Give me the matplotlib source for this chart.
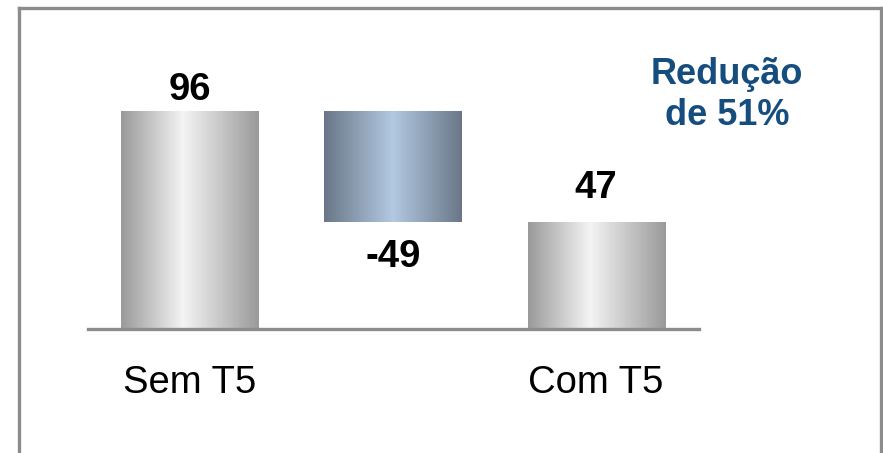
import numpy as np
import matplotlib.pyplot as plt
from matplotlib.colors import LinearSegmentedColormap
from matplotlib.lines import Line2D

plt.rcParams['font.family'] = ['Liberation Sans', 'DejaVu Sans']

# Dados do gráfico (cascata)
categorias = ["Sem T5", "", "Com T5"]
valores = [96, -49, 47]
rotulos = ["96", "-49", "47"]
destaque = "Redução\nde 51%"

# base e altura de cada barra
bases = [0, valores[0] + valores[1], 0]
alturas = [valores[0], -valores[1], valores[2]]

fig = plt.figure(figsize=(8.83, 4.53), dpi=100)
ax = fig.add_axes([88 / 883, 124 / 453, 611 / 883, 318 / 453])
ax.axis("off")

cinza = LinearSegmentedColormap.from_list(
    "cinza", [(0, "#9a9a9a"), (0.45, "#f4f4f4"), (1, "#9a9a9a")])
azul = LinearSegmentedColormap.from_list(
    "azul", [(0, "#6a7788"), (0.5, "#b2c9e1"), (1, "#6a7788")])
mapas = [cinza, azul, cinza]

x = np.arange(len(valores))
barras = ax.bar(x, alturas, bottom=bases, width=0.675, color="none", edgecolor="none")
grad = np.linspace(0, 1, 256).reshape(1, -1)
for b, cmap in zip(barras, mapas):
    x0, y0 = b.get_x(), b.get_y()
    img = ax.imshow(grad, cmap=cmap, aspect="auto", interpolation="bicubic",
                    extent=[x0, x0 + b.get_width(), y0, y0 + b.get_height()], zorder=2)
    img.set_clip_path(b)
ax.set_xlim(-0.502, 2.507)
ax.set_ylim(0, 140)

# linha de base
ax.axhline(0, color="#8c8c8c", lw=2.4, zorder=3, clip_on=False)

# rótulos de valor
ax.annotate(rotulos[0], (x[0], bases[0] + alturas[0]), xytext=(0, 15), textcoords="offset points",
            ha="center", va="center", fontsize=27.5, fontweight="bold")
ax.annotate(rotulos[1], (x[1], bases[1]), xytext=(0, -25), textcoords="offset points",
            ha="center", va="center", fontsize=27.5, fontweight="bold")
ax.annotate(rotulos[2], (x[2], bases[2] + alturas[2]), xytext=(0, 25), textcoords="offset points",
            ha="center", va="center", fontsize=27.5, fontweight="bold")

# categorias
for xi, cat in zip(x, categorias):
    if cat:
        ax.annotate(cat, (xi, 0), xytext=(0, -39), textcoords="offset points",
                    ha="center", va="center", fontsize=27.5)

fig.text(727 / 883, 1 - 95 / 453, destaque, ha="center", va="center", fontsize=26,
         fontweight="bold", color="#154d7e", linespacing=1.25)

# moldura
cor_moldura = "#8c8c8c"
for xs, ys in [([18.5, 18.5], [0, 445]), ([18.5, 880.5], [445, 445]), ([880.5, 880.5], [445, 0])]:
    fig.add_artist(Line2D(np.array(xs) / 883, np.array(ys) / 453, color=cor_moldura, lw=2.4))

fig.savefig("out.png", dpi=100)
